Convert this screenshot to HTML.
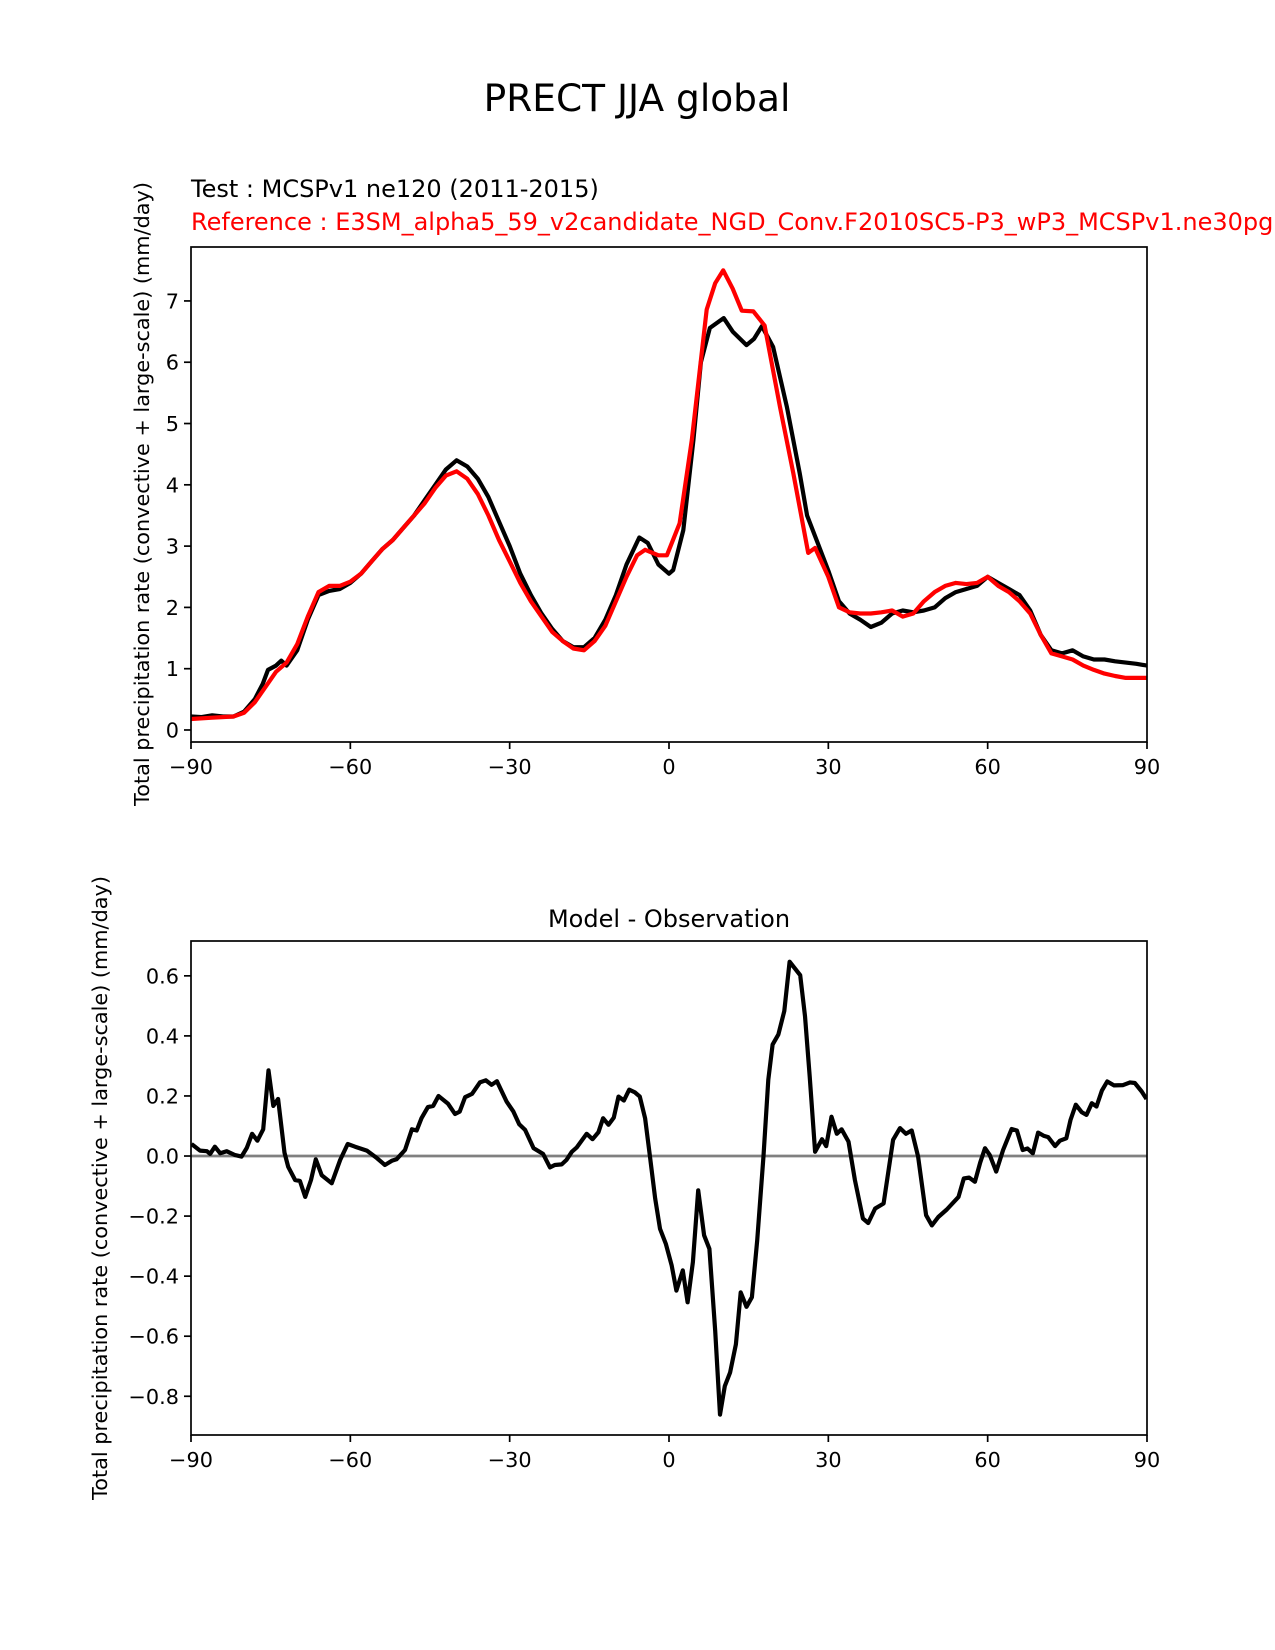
<!DOCTYPE html>
<html><head><meta charset="utf-8"><style>
html,body{margin:0;padding:0;background:#fff;}
svg{display:block;font-family:"DejaVu Sans","Liberation Sans",sans-serif;}
</style></head><body>
<svg id="chart" width="1275" height="1650" viewBox="0 0 1275 1650" xmlns="http://www.w3.org/2000/svg">
<rect width="1275" height="1650" fill="#fff"/>
<text x="637" y="111" font-size="37.5" text-anchor="middle">PRECT JJA global</text>
<text x="191" y="197" font-size="24">Test : MCSPv1 ne120 (2011-2015)</text>
<text x="191" y="230" font-size="24" fill="#ff0000">Reference : E3SM_alpha5_59_v2candidate_NGD_Conv.F2010SC5-P3_wP3_MCSPv1.ne30pg2</text>
<text transform="translate(149,494) rotate(-90)" font-size="20.8" text-anchor="middle">Total precipitation rate (convective + large-scale) (mm/day)</text>
<text x="669" y="927" font-size="24" text-anchor="middle">Model - Observation</text>
<text transform="translate(107,1188) rotate(-90)" font-size="20.8" text-anchor="middle">Total precipitation rate (convective + large-scale) (mm/day)</text>
<g id="top"></g>
<g id="bot"></g>
</svg>
<script>
const latTest=[-90,-88,-86,-84,-82,-80,-78,-76.5,-75.5,-74,-73,-72,-70,-68,-66,-64,-62,-60,-58,-56,-54,-52,-50,-48,-46,-44,-42,-40,-38,-36,-34,-32,-30,-28,-26,-24,-22,-20,-18,-16,-14,-12,-10,-8,-5.6,-4,-2,0,0.8,2.7,4.6,6,7.7,10.3,12,14.6,16,17.5,19.6,22.2,24.6,26,28,30,32,34,36,38,40,42,44,46,48,50,52,54,56,58,60,62,64,66,68,70,72,74,76,78,80,82,84,86,88,90];
const valTest=[0.22,0.21,0.24,0.22,0.22,0.3,0.5,0.75,0.98,1.05,1.13,1.05,1.3,1.8,2.2,2.27,2.3,2.4,2.55,2.75,2.95,3.1,3.3,3.5,3.75,4.0,4.25,4.4,4.3,4.1,3.8,3.4,3.0,2.55,2.2,1.9,1.65,1.45,1.35,1.35,1.5,1.8,2.2,2.7,3.14,3.05,2.7,2.55,2.61,3.26,4.73,6.0,6.56,6.72,6.5,6.28,6.38,6.59,6.25,5.27,4.19,3.5,3.05,2.6,2.1,1.9,1.8,1.68,1.75,1.9,1.95,1.92,1.95,2.0,2.15,2.25,2.3,2.35,2.5,2.4,2.3,2.2,1.95,1.55,1.3,1.25,1.3,1.2,1.15,1.15,1.12,1.1,1.08,1.05];
const latRef=[-90,-86,-82,-80,-78,-76,-74,-72,-70,-68,-66,-64,-62,-60,-58,-56,-54,-52,-50,-48,-46,-44,-42,-40,-38,-36,-34,-32,-30,-28,-26,-24,-22,-20,-18,-16,-14,-12,-10,-8,-6,-4.5,-2,-0.4,2,4.3,7.1,8.7,10.2,12,13.7,15.9,18,20.9,23.4,26.2,27.5,30,32,34,36,38,40,42,44,46,48,50,52,54,56,58,60,62,64,66,68,70,72,74,76,78,80,82,84,86,88,90];
const valRef=[0.18,0.2,0.22,0.28,0.45,0.7,0.95,1.1,1.4,1.85,2.25,2.35,2.35,2.42,2.55,2.75,2.95,3.1,3.3,3.5,3.7,3.95,4.15,4.22,4.1,3.85,3.5,3.1,2.75,2.4,2.1,1.85,1.6,1.45,1.33,1.3,1.45,1.7,2.1,2.5,2.85,2.94,2.85,2.85,3.37,4.73,6.86,7.29,7.5,7.2,6.84,6.83,6.6,5.27,4.19,2.89,2.97,2.5,2.0,1.92,1.9,1.9,1.92,1.95,1.85,1.9,2.1,2.25,2.35,2.4,2.38,2.4,2.5,2.35,2.25,2.1,1.9,1.55,1.25,1.2,1.15,1.05,0.98,0.92,0.88,0.85,0.85,0.85];
const latDiff=[-89.9,-88.3,-87,-86.4,-85.5,-84.5,-83.3,-81.7,-80.5,-79.5,-78.5,-77.5,-76.4,-75.4,-74.5,-73.6,-72.4,-71.7,-70.4,-69.5,-68.5,-67.4,-66.5,-65.4,-63.5,-61.9,-60.5,-59.1,-56.9,-55,-53.5,-52.2,-51.3,-49.7,-48.4,-47.5,-46.6,-45.4,-44.4,-43.4,-41.6,-40.3,-39.4,-38.4,-37.1,-35.6,-34.5,-33.4,-32.4,-30.6,-29.3,-28.2,-27.1,-25.5,-23.7,-22.4,-21.5,-20.2,-19.3,-18.3,-17.4,-15.5,-14.4,-13.3,-12.4,-11.4,-10.4,-9.5,-8.5,-7.5,-6.4,-5.5,-4.5,-3.6,-2.6,-1.7,-0.6,0.5,1.4,2.6,3.5,4.5,5.5,6.6,7.6,8.7,9.6,10.5,11.5,12.6,13.5,14.6,15.6,16.6,17.8,18.7,19.5,20.6,21.7,22.7,24.7,25.6,26.5,27.5,28.8,29.6,30.6,31.6,32.5,33.8,35,36.5,37.5,38.8,40.4,42.2,43.5,44.6,45.7,46.9,48.4,49.5,50.7,52.3,54.5,55.5,56.5,57.6,58.6,59.5,60.4,61.6,62.9,64.5,65.5,66.6,67.5,68.5,69.5,70.6,71.4,72.7,73.6,74.8,75.6,76.6,77.7,78.6,79.6,80.5,81.5,82.5,83.8,85.5,86.8,87.7,89,89.9];
const valDiff=[0.04,0.018,0.016,0.007,0.031,0.009,0.016,0.003,-0.002,0.027,0.074,0.051,0.089,0.285,0.167,0.19,0.011,-0.036,-0.08,-0.083,-0.136,-0.08,-0.011,-0.064,-0.091,-0.013,0.04,0.031,0.018,-0.007,-0.03,-0.016,-0.011,0.02,0.089,0.085,0.126,0.163,0.167,0.2,0.174,0.14,0.148,0.196,0.207,0.245,0.252,0.237,0.249,0.182,0.148,0.106,0.087,0.026,0.007,-0.038,-0.03,-0.028,-0.013,0.014,0.028,0.074,0.056,0.079,0.126,0.104,0.128,0.198,0.185,0.221,0.212,0.198,0.126,0.0,-0.142,-0.242,-0.292,-0.365,-0.448,-0.381,-0.487,-0.353,-0.114,-0.264,-0.309,-0.582,-0.861,-0.766,-0.721,-0.627,-0.454,-0.502,-0.47,-0.281,0.0,0.254,0.371,0.405,0.483,0.647,0.602,0.466,0.265,0.014,0.056,0.033,0.131,0.074,0.089,0.048,-0.08,-0.208,-0.223,-0.175,-0.158,0.054,0.093,0.074,0.085,-0.002,-0.197,-0.231,-0.203,-0.178,-0.136,-0.075,-0.072,-0.086,-0.022,0.026,0.003,-0.052,0.02,0.09,0.085,0.02,0.025,0.009,0.078,0.067,0.063,0.033,0.051,0.059,0.12,0.171,0.146,0.137,0.176,0.165,0.218,0.248,0.235,0.236,0.245,0.243,0.215,0.19];
const xTicks=[-90,-60,-30,0,30,60,90];
const xTickLabels=["\u221290","\u221260","\u221230","0","30","60","90"];
const yTicksTop=[0,1,2,3,4,5,6,7];
const yTickLabelsTop=["0","1","2","3","4","5","6","7"];
const yTicksBot=[-0.8,-0.6,-0.4,-0.2,0,0.2,0.4,0.6];
const yTickLabelsBot=["\u22120.8","\u22120.6","\u22120.4","\u22120.2","0.0","0.2","0.4","0.6"];

const NS="http://www.w3.org/2000/svg";
function mk(parent,tag,attrs){const e=document.createElementNS(NS,tag);for(const k in attrs)e.setAttribute(k,attrs[k]);parent.appendChild(e);return e;}
function axis(g,box,ymin,ymax,yT,yL,name){
  const [L,T,R,B]=box;
  const sx=v=>L+(v+90)*(R-L)/180;
  const sy=v=>B-(v-ymin)*(B-T)/(ymax-ymin);
  xTicks.forEach((t,i)=>{
    const l=mk(g,'line',{x1:sx(t),x2:sx(t),y1:B,y2:B+7,stroke:'#000','stroke-width':1.7});
    
    
    const tx=mk(g,'text',{x:sx(t),y:B+32,'font-size':20.8,'text-anchor':'middle'});
    tx.textContent=xTickLabels[i];
    
    
  });
  yT.forEach((t,i)=>{
    const l=mk(g,'line',{x1:L-7,x2:L,y1:sy(t),y2:sy(t),stroke:'#000','stroke-width':1.7});
    
    
    const tx=mk(g,'text',{x:L-12,y:sy(t)+7.5,'font-size':20.8,'text-anchor':'end'});
    tx.textContent=yL[i];
    
    
  });
  return {sx,sy};
}
function line(g,s,xs,ys,color,name,clip){
  const d=xs.map((x,i)=>(i?'L':'M')+s.sx(x).toFixed(1)+','+s.sy(ys[i]).toFixed(1)).join('');
  const p=mk(g,'path',{d:d,fill:'none',stroke:color,'stroke-width':4.2,'stroke-linejoin':'round','clip-path':clip});
  
  
}
const svg=document.getElementById('chart');
const defs=mk(svg,'defs',{});
const c1=mk(defs,'clipPath',{id:'c1'});mk(c1,'rect',{x:191,y:247,width:956,height:495});
const c2=mk(defs,'clipPath',{id:'c2'});mk(c2,'rect',{x:191,y:941,width:956,height:494});

const gt=document.getElementById('top');
const st=axis(gt,[191,247,1147,742],-0.196,7.88,yTicksTop,yTickLabelsTop,'top');
line(gt,st,latTest,valTest,'#000','test-line','url(#c1)');
line(gt,st,latRef,valRef,'#ff0000','reference-line','url(#c1)');
const f1=mk(gt,'rect',{x:191,y:247,width:956,height:495,fill:'none',stroke:'#000','stroke-width':1.7});



const gb=document.getElementById('bot');
const sb=axis(gb,[191,941,1147,1435],-0.929,0.716,yTicksBot,yTickLabelsBot,'bottom');
const z=mk(gb,'line',{x1:191,x2:1147,y1:sb.sy(0),y2:sb.sy(0),stroke:'#808080','stroke-width':2.8});


line(gb,sb,latDiff,valDiff,'#000','difference-line','url(#c2)');
const f2=mk(gb,'rect',{x:191,y:941,width:956,height:494,fill:'none',stroke:'#000','stroke-width':1.7});


</script>
</body></html>
